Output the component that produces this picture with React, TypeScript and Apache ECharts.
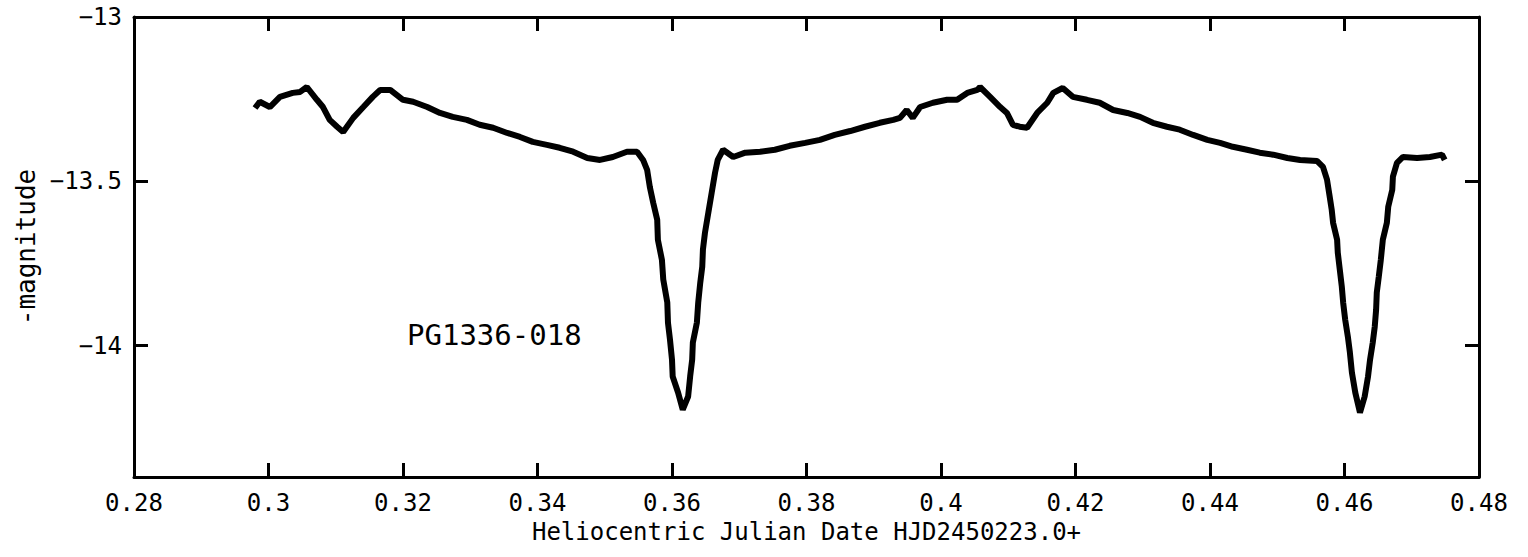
import React, { useEffect, useRef } from "react";
import * as echarts from "echarts";

// Heliocentric Julian Date offsets (HJD 2450223.0+)
const hjd: number[] = [
  0.2980, 0.2987, 0.3002, 0.3017, 0.3036, 0.3047, 0.3057, 0.3072, 0.3081, 0.3091,
  0.3102, 0.3111, 0.3126, 0.3141, 0.3155, 0.3166, 0.3181, 0.3200, 0.3215, 0.3236,
  0.3255, 0.3274, 0.3295, 0.3314, 0.3334, 0.3355, 0.3374, 0.3393, 0.3414, 0.3433,
  0.3453, 0.3474, 0.3493, 0.3512, 0.3533, 0.3548, 0.3557, 0.3563, 0.3567, 0.3572,
  0.3578, 0.3579, 0.3585, 0.3587, 0.3593, 0.3594, 0.3597, 0.3600, 0.3601, 0.3609,
  0.3616, 0.3624, 0.3627, 0.3630, 0.3631, 0.3637, 0.3639, 0.3642, 0.3645, 0.3646,
  0.3649, 0.3654, 0.3659, 0.3664, 0.3668, 0.3676, 0.3691, 0.3709, 0.3731, 0.3753,
  0.3775, 0.3798, 0.3820, 0.3842, 0.3865, 0.3887, 0.3909, 0.3929, 0.3939, 0.3949,
  0.3958, 0.3969, 0.3988, 0.4009, 0.4024, 0.4039, 0.4054, 0.4058, 0.4073, 0.4088,
  0.4098, 0.4107, 0.4117, 0.4128, 0.4143, 0.4158, 0.4167, 0.4181, 0.4196, 0.4217,
  0.4236, 0.4256, 0.4277, 0.4296, 0.4315, 0.4336, 0.4355, 0.4375, 0.4396, 0.4415,
  0.4434, 0.4455, 0.4474, 0.4494, 0.4515, 0.4534, 0.4559, 0.4568, 0.4574, 0.4578,
  0.4581, 0.4583, 0.4589, 0.4590, 0.4593, 0.4596, 0.4598, 0.4601, 0.4605, 0.4608,
  0.4611, 0.4616, 0.4623, 0.4630, 0.4635, 0.4638, 0.4642, 0.4645, 0.4647, 0.4648,
  0.4651, 0.4654, 0.4657, 0.4663, 0.4665, 0.4671, 0.4672, 0.4678, 0.4687, 0.4708,
  0.4727, 0.4745, 0.4749,
];

// -magnitude
const negMag: number[] = [
  -13.277, -13.258, -13.274, -13.243, -13.231, -13.228, -13.213, -13.252, -13.274, -13.313,
  -13.334, -13.350, -13.307, -13.274, -13.243, -13.222, -13.222, -13.252, -13.258, -13.274,
  -13.292, -13.304, -13.313, -13.328, -13.337, -13.353, -13.365, -13.380, -13.389, -13.398,
  -13.410, -13.429, -13.435, -13.426, -13.410, -13.410, -13.435, -13.465, -13.517, -13.565,
  -13.617, -13.678, -13.739, -13.799, -13.869, -13.930, -13.982, -14.043, -14.094, -14.143,
  -14.195, -14.155, -14.094, -14.043, -13.991, -13.930, -13.869, -13.809, -13.760, -13.708,
  -13.657, -13.596, -13.535, -13.474, -13.435, -13.404, -13.426, -13.413, -13.410, -13.404,
  -13.392, -13.383, -13.374, -13.359, -13.347, -13.334, -13.322, -13.313, -13.307, -13.283,
  -13.307, -13.274, -13.261, -13.252, -13.252, -13.231, -13.222, -13.213, -13.243, -13.274,
  -13.292, -13.328, -13.334, -13.337, -13.292, -13.261, -13.231, -13.216, -13.243, -13.252,
  -13.261, -13.283, -13.292, -13.304, -13.322, -13.334, -13.343, -13.359, -13.374, -13.383,
  -13.395, -13.404, -13.413, -13.419, -13.429, -13.435, -13.438, -13.456, -13.495, -13.547,
  -13.587, -13.626, -13.678, -13.717, -13.769, -13.821, -13.869, -13.921, -13.973, -14.021,
  -14.082, -14.143, -14.204, -14.155, -14.094, -14.043, -13.991, -13.942, -13.891, -13.839,
  -13.790, -13.739, -13.678, -13.626, -13.578, -13.526, -13.486, -13.444, -13.426, -13.429,
  -13.426, -13.419, -13.435,
];

const yTickValues: number[] = [-14, -13.5, -13];
const starName = "PG1336-018";
const xTitle = "Heliocentric Julian Date HJD2450223.0+";
const yTitle = "-magnitude";

const FONT = "DejaVu Sans Mono";

export default function App() {
  const ref = useRef<HTMLDivElement>(null);

  useEffect(() => {
    if (!ref.current) return;
    const chart = echarts.init(ref.current, undefined, { renderer: "svg" });

    const axisLine = { show: true, lineStyle: { color: "#000", width: 3 } };
    const axisTick = { show: true, inside: true, length: 14, lineStyle: { color: "#000", width: 3 } };

    const yFmt = (v: number) => String(v).replace("-", "\u2212");

    chart.setOption({
      animation: false,
      backgroundColor: "#fff",
      grid: { left: 134, right: 49, top: 17, bottom: 80, containLabel: false },
      xAxis: [
        {
          type: "value",
          min: 0.28,
          max: 0.48,
          interval: 0.02,
          position: "bottom",
          axisLine,
          axisTick,
          splitLine: { show: false },
          axisLabel: { color: "#000", fontFamily: FONT, fontSize: 24, margin: 14 },
          name: xTitle,
          nameLocation: "middle",
          nameGap: 42,
          nameTextStyle: { color: "#000", fontFamily: FONT, fontSize: 24 },
        },
        {
          type: "value",
          min: 0.28,
          max: 0.48,
          interval: 0.02,
          position: "top",
          axisLine,
          axisTick,
          splitLine: { show: false },
          axisLabel: { show: false },
        },
      ],
      yAxis: [
        {
          type: "value",
          min: -14.4,
          max: -13,
          position: "left",
          axisLine,
          axisTick: { ...axisTick, customValues: yTickValues },
          splitLine: { show: false },
          axisLabel: {
            color: "#000",
            fontFamily: FONT,
            fontSize: 24,
            margin: 12,
            customValues: yTickValues,
            formatter: yFmt,
          },
          name: yTitle,
          nameLocation: "middle",
          nameGap: 92,
          nameRotate: 90,
          nameTextStyle: { color: "#000", fontFamily: FONT, fontSize: 26 },
        },
        {
          type: "value",
          min: -14.4,
          max: -13,
          position: "right",
          axisLine,
          axisTick: { ...axisTick, customValues: yTickValues },
          splitLine: { show: false },
          axisLabel: { show: false, customValues: yTickValues },
        },
      ],
      graphic: [
        {
          type: "text",
          left: 407,
          top: 320,
          style: { text: starName, fill: "#000", font: `29px "${FONT}"` },
        },
      ],
      series: [
        {
          type: "line",
          xAxisIndex: 0,
          yAxisIndex: 0,
          data: hjd.map((x, i) => [x, negMag[i]]),
          showSymbol: false,
          symbol: "none",
          lineStyle: { color: "#000", width: 6, join: "bevel" },
          silent: true,
        },
      ],
    });

    return () => chart.dispose();
  }, []);

  return (
    <div
      ref={ref}
      style={{ position: "fixed", left: 0, top: 0, width: 1528, height: 557, background: "#fff" }}
    />
  );
}
